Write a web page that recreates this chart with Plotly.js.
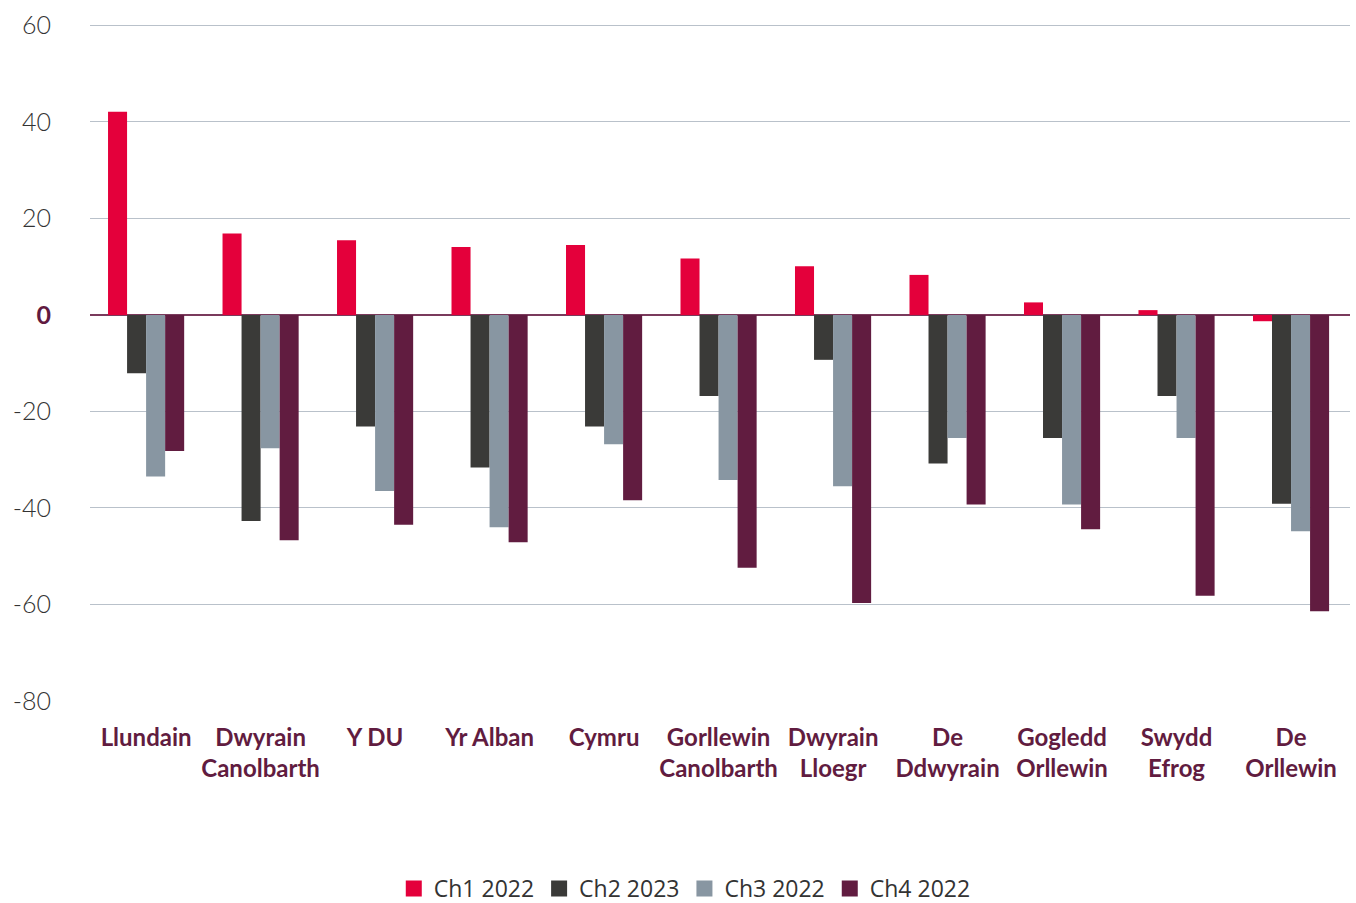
<!DOCTYPE html>
<html>
<head>
<meta charset="utf-8">
<script src="https://cdn.plot.ly/plotly-3.0.1.min.js"></script>
<style>html,body{margin:0;padding:0;background:#fff;}#chart{width:1356px;height:903px;}</style>
</head>
<body>
<div id="chart"></div>
<script>
const categories = ["Llundain", "Dwyrain<br>Canolbarth", "Y DU", "Yr Alban", "Cymru", "Gorllewin<br>Canolbarth", "Dwyrain<br>Lloegr", "De<br>Ddwyrain", "Gogledd<br>Orllewin", "Swydd<br>Efrog", "De<br>Orllewin"];
const seriesNames = ["Ch1 2022", "Ch2 2023", "Ch3 2022", "Ch4 2022"];
const ch1 = [42.1, 16.9, 15.5, 14.1, 14.5, 11.7, 10.1, 8.3, 2.6, 1.0, -1.3];
const ch2 = [-12.1, -42.7, -23.1, -31.6, -23.1, -16.8, -9.3, -30.8, -25.5, -16.8, -39.1];
const ch3 = [-33.5, -27.6, -36.5, -44.0, -26.8, -34.2, -35.5, -25.5, -39.3, -25.5, -44.8];
const ch4 = [-28.2, -46.7, -43.5, -47.1, -38.4, -52.4, -59.7, -39.3, -44.4, -58.2, -61.4];
const yTickVals = [60, 40, 20, 0, -20, -40, -60, -80];
const yTickText = ["60", "40", "20", '<span style="color:#611a40"><b>0</b></span>', "-20", "-40", "-60", "-80"];

const colors = ["#e4003b", "#3a3a38", "#8896a2", "#611c40"];
const values = [ch1, ch2, ch3, ch4];
const xIdx = categories.map((c, i) => i);

const traces = values.map((v, k) => ({
  type: "bar",
  name: seriesNames[k],
  x: xIdx,
  y: v,
  marker: {color: colors[k]},
  showlegend: false,
  legendgroup: "g" + k,
  hoverinfo: "name+y"
}));
// legend entries (square markers)
values.forEach((v, k) => {
  traces.push({
    type: "scatter",
    mode: "markers",
    name: seriesNames[k],
    x: [null],
    y: [null],
    marker: {color: colors[k], symbol: "square", size: 18},
    legendgroup: "g" + k,
    showlegend: true
  });
});

const layout = {
  width: 1356,
  height: 903,
  margin: {l: 90, r: 6, t: 23, b: 202, autoexpand: false},
  paper_bgcolor: "#ffffff",
  plot_bgcolor: "#ffffff",
  font: {family: "Lato, 'Open Sans', sans-serif", color: "#333333", size: 22},
  barmode: "group",
  bargap: 0.335,
  bargroupgap: 0,
  showlegend: true,
  legend: {
    orientation: "h",
    xref: "container", yref: "container",
    x: 0.505, xanchor: "center",
    y: 0.016, yanchor: "middle",
    font: {size: 23, color: "#333333", family: "'Open Sans', Lato, sans-serif"},
    itemwidth: 30,
    itemsizing: "trace",
    traceorder: "normal"
  },
  xaxis: {
    range: [-0.49, 10.515],
    tickmode: "array",
    tickvals: xIdx,
    ticktext: categories,
    tickfont: {size: 24, color: "#611c40", family: "Lato, sans-serif", weight: "bold"},
    showgrid: false,
    zeroline: false,
    showline: false,
    ticks: "",
    ticklabelstandoff: 20,
    fixedrange: true
  },
  yaxis: {
    range: [-80, 60.5],
    tickmode: "array",
    tickvals: yTickVals,
    ticktext: yTickText,
    tickfont: {size: 25, color: "#333333", family: "Lato, sans-serif", weight: 300},
    showgrid: true,
    gridcolor: "#b9c1ca",
    gridwidth: 1,
    zeroline: true,
    zerolinecolor: "#7a3a5c",
    zerolinewidth: 2,
    showline: false,
    ticks: "",
    ticklabelstandoff: 38,
    fixedrange: true
  }
};

Plotly.newPlot("chart", traces, layout, {displayModeBar: false, staticPlot: true});
</script>
</body>
</html>
